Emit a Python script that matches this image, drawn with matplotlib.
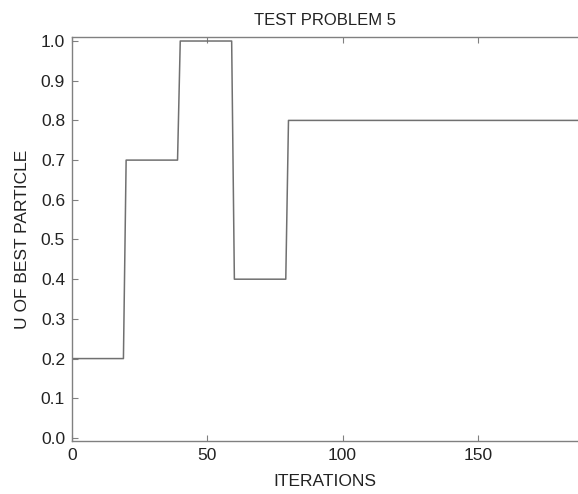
import numpy as np
import matplotlib.pyplot as plt

plt.rcParams['font.family'] = ['Liberation Sans', 'DejaVu Sans']

# change points of the best-particle U value
iters = [0, 19, 20, 39, 40, 59, 60, 79, 80, 187]
u_best = [0.2, 0.2, 0.7, 0.7, 1.0, 1.0, 0.4, 0.4, 0.8, 0.8]

fig = plt.figure(figsize=(5.78, 4.94), dpi=100)
ax = fig.add_axes([0.1246, 0.107, 0.8754, 0.818])

ax.plot(iters, u_best, color='#707070', lw=1.1)

ax.set_xlim(0, 187)
ax.set_ylim(-0.008, 1.01)
ax.set_xticks([0, 50, 100, 150])
ax.set_yticks(np.arange(0, 1.01, 0.1))
ax.set_yticklabels([f'{v:.1f}' for v in np.arange(0, 1.01, 0.1)])

for side in ['left', 'bottom', 'top']:
    ax.spines[side].set_color('#808080')
    ax.spines[side].set_linewidth(1.0)
ax.spines['right'].set_visible(False)
ax.tick_params(direction='in', length=4, color='#808080', labelsize=12.5,
               top=True, right=False, labelcolor='#222222', pad=5)

ax.set_title('TEST PROBLEM 5', fontsize=12, pad=9, color='#222222')
ax.set_xlabel('ITERATIONS', fontsize=12.5, labelpad=8, color='#222222')
ax.set_ylabel('U OF BEST PARTICLE', fontsize=12.5, labelpad=8, color='#222222')

fig.savefig('out.png', dpi=100)
